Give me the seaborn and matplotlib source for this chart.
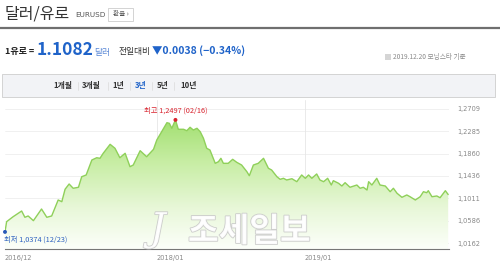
import numpy as np
import pandas as pd
import matplotlib
matplotlib.use("Agg")
import matplotlib.pyplot as plt
import matplotlib.patheffects as pe
from matplotlib.patches import Rectangle
import seaborn as sns

# ---------------- data ----------------
start_date = "2016-12-23"
day_offsets = [0, 4, 20, 41, 49, 57, 70, 90, 103, 115, 131, 140, 148, 158, 168, 181,
               189, 200, 214, 226, 234, 242, 259, 271, 283, 296, 308, 316, 333, 349,
               366, 374, 386, 399, 405, 411, 420, 427, 440, 448, 456, 464, 473, 481,
               489, 497, 505, 518, 526, 532, 538, 550, 561, 571, 583, 596, 602, 612,
               624, 637, 649, 657, 670, 678, 686, 694, 707, 719, 731, 740, 748, 756,
               768, 776, 785, 795, 804, 809, 822, 830, 838, 850, 867, 875, 883, 892,
               896, 904, 916, 924, 937, 949, 957, 966, 978, 990, 998, 1011, 1023, 1031,
               1039, 1043, 1052, 1064, 1072, 1085, 1092]
rates = [1.0374, 1.0568, 1.0662, 1.0770, 1.0651, 1.0676, 1.0587, 1.0808, 1.0651, 1.0676,
         1.0979, 1.0947, 1.1182, 1.1282, 1.1201, 1.1220, 1.1420, 1.1453, 1.1737, 1.1780,
         1.1769, 1.1864, 1.2034, 1.1959, 1.1780, 1.1864, 1.1610, 1.1642, 1.1913, 1.1799,
         1.1940, 1.2116, 1.2273, 1.2444, 1.2432, 1.2338, 1.2497, 1.2319, 1.2319, 1.2292,
         1.2357, 1.2305, 1.2338, 1.2273, 1.2148, 1.1959, 1.1926, 1.1674, 1.1705, 1.1769,
         1.1674, 1.1674, 1.1750, 1.1693, 1.1642, 1.1515, 1.1439, 1.1642, 1.1674, 1.1769,
         1.1580, 1.1547, 1.1420, 1.1371, 1.1390, 1.1358, 1.1382, 1.1326, 1.1453, 1.1390,
         1.1453, 1.1390, 1.1472, 1.1358, 1.1326, 1.1390, 1.1263, 1.1345, 1.1295, 1.1244,
         1.1307, 1.1220, 1.1263, 1.1201, 1.1220, 1.1168, 1.1326, 1.1263, 1.1390, 1.1263,
         1.1244, 1.1136, 1.1201, 1.1106, 1.1030, 1.1074, 1.1041, 1.0979, 1.1041, 1.1136,
         1.1117, 1.1155, 1.1041, 1.1055, 1.1022, 1.1155, 1.1082]

y_ticks = [1.0162, 1.0586, 1.1011, 1.1436, 1.1860, 1.2285, 1.2709]
y_tick_labels = ["1,0162", "1,0586", "1,1011", "1,1436", "1,1860", "1,2285", "1,2709"]
x_tick_dates = ["2016-12-23", "2018-01-01", "2019-01-01"]
x_tick_labels = ["2016/12", "2018/01", "2019/01"]

high_label = "최고 1,2497 (02/16)"
low_label = "최저 1,0374 (12/23)"
tab_labels = ["1개월", "3개월", "1년", "3년", "5년", "10년"]
active_tab = "3년"

title = "달러/유로"
ticker = "EURUSD"
price_text = "1.1082"
change_text = "▼0.0038 (−0.34%)"
source_text = "2019.12.20 모닝스타 기준"

# ---------------- style ----------------
sns.set_theme(style="white")
FAM = ["Noto Sans CJK KR", "DejaVu Sans"]
plt.rcParams["font.family"] = FAM

W, H = 500, 269
fig = plt.figure(figsize=(W / 100, H / 100), dpi=100)
fig.patch.set_facecolor("white")


def fx(x):
    return x / W


def fy(y):
    return 1 - y / H


BLUE = "#1f63c9"
RED = "#d9232e"
GREEN_LINE = "#8fd05a"

# ---------------- header ----------------
fig.text(fx(5), fy(14), title, fontsize=11.5, color="#333333", va="center", ha="left")
fig.text(fx(75), fy(15), ticker, fontsize=5.2, color="#555555", va="center", ha="left",
         family="DejaVu Sans")
fig.patches.append(Rectangle((fx(108), fy(21)), fx(25), 13 / H, transform=fig.transFigure,
                             facecolor="white", edgecolor="#cccccc", lw=0.6))
fig.text(fx(120.5), fy(14.5), "환율 ›", fontsize=4.8, color="#555555", va="center", ha="center")
fig.add_artist(plt.Line2D([0, 1], [fy(28), fy(28)], transform=fig.transFigure,
                          color="#6f6f6f", lw=1.6))

fig.text(fx(5), fy(51), "1유로 =", fontsize=6.5, color="#222222", va="center", ha="left",
         weight="bold")
fig.text(fx(37), fy(50), price_text, fontsize=12.5, color=BLUE, va="center", ha="left",
         weight="bold")
fig.text(fx(94), fy(52), "달러", fontsize=6.3, color="#5a88d6", va="center", ha="left")
fig.text(fx(119), fy(51), "전일대비", fontsize=6.3, color="#333333", va="center", ha="left")
fig.text(fx(152), fy(51), change_text, fontsize=7.5, color=BLUE, va="center", ha="left",
         weight="bold")
fig.patches.append(Rectangle((fx(385), fy(60)), fx(6), 6 / H, transform=fig.transFigure,
                             facecolor="#d5d5d5", edgecolor="none"))
fig.text(fx(393), fy(57), source_text, fontsize=4.8, color="#8a8a8a", va="center", ha="left")

# tab bar
fig.patches.append(Rectangle((fx(2), fy(97)), fx(493), 23 / H, transform=fig.transFigure,
                             facecolor="#f2f3f6", edgecolor="#d3d3d3", lw=0.7))
tab_x = [53, 82, 112, 135, 157, 180]
sep_x = [78, 107.5, 130, 152, 174]
for lab, x in zip(tab_labels, tab_x):
    fig.text(fx(x), fy(86), lab, fontsize=5.6, va="center", ha="left",
             color=BLUE if lab == active_tab else "#333333", weight="bold")
for x in sep_x:
    fig.add_artist(plt.Line2D([fx(x), fx(x)], [fy(82), fy(90)], transform=fig.transFigure,
                              color="#dadada", lw=0.5))

# ---------------- chart ----------------
df = pd.DataFrame({
    "date": pd.to_datetime(start_date) + pd.to_timedelta(day_offsets, unit="D"),
    "rate": rates,
})

ax = fig.add_axes([fx(5), fy(249), fx(444), (249 - 100) / H])
ax.set_facecolor("white")
x0 = pd.to_datetime(start_date)
ax.set_xlim(x0, x0 + pd.Timedelta(days=1094))
ax.set_ylim(1.0050, 1.2874)

# gradient fill
poly = ax.fill_between(df["date"], df["rate"], 1.0050, color="none", lw=0)
grad_cols = np.array([
    [0.62, 0.87, 0.42],
    [0.78, 0.93, 0.64],
    [0.91, 0.97, 0.85],
    [0.99, 1.00, 0.98],
])
n = 256
t = np.linspace(0, 1, n)
stops = np.array([0.0, 0.35, 0.7, 1.0])
img = np.zeros((n, 1, 3))
for c in range(3):
    img[:, 0, c] = np.interp(t, stops, grad_cols[:, c])
xl = ax.get_xlim()
im = ax.imshow(img, aspect="auto", extent=[xl[0], xl[1], 1.0050, 1.2600],
               origin="upper", zorder=1)
path = poly.get_paths()[0]
im.set_clip_path(path, transform=ax.transData)
ax.set_xlim(xl)
ax.set_ylim(1.0050, 1.2874)

sns.lineplot(data=df, x="date", y="rate", ax=ax, color=GREEN_LINE, lw=1.0, zorder=3)

# grid
for v in y_ticks:
    ax.axhline(v, color="#eeeeee", lw=0.6, zorder=0)
for d in x_tick_dates[1:]:
    ax.axvline(pd.to_datetime(d), color="#e6e6e6", lw=0.6, zorder=0)

# spines / ticks
for s in ["top", "right", "left"]:
    ax.spines[s].set_visible(False)
ax.spines["bottom"].set_color("#777777")
ax.spines["bottom"].set_linewidth(0.8)
ax.set_yticks(y_ticks)
ax.yaxis.tick_right()
ax.set_yticklabels(y_tick_labels, fontsize=4.8, color="#888888", family="DejaVu Sans")
ax.tick_params(axis="y", length=0, pad=6)
ax.set_xticks(pd.to_datetime(x_tick_dates))
ax.set_xticklabels(x_tick_labels, fontsize=4.8, color="#888888", family="DejaVu Sans",
                   ha="left")
ax.tick_params(axis="x", length=2, width=0.5, color="#888888", pad=2)
ax.set_xlabel("")
ax.set_ylabel("")

# high / low markers
imax = int(np.argmax(rates))
imin = int(np.argmin(rates))
ax.scatter([df["date"][imax]], [rates[imax]], s=8, color=RED, zorder=5, clip_on=False,
           edgecolor="none")
ax.annotate(high_label, (df["date"][imax], rates[imax]), xytext=(0, 4),
            textcoords="offset points", ha="center", va="bottom", fontsize=5.3, color=RED)
ax.scatter([df["date"][imin]], [rates[imin]], s=8, color="#2a5ab8", zorder=5, clip_on=False,
           edgecolor="none")
ax.annotate(low_label, (df["date"][imin], rates[imin]), xytext=(-1, -3),
            textcoords="offset points", ha="left", va="top", fontsize=5.3, color="#2f62c0")

# watermark
fig.text(fx(188), fy(232), "조세일보", fontsize=24, color="white", alpha=0.9,
         va="center", ha="left", weight="bold",
         path_effects=[pe.withStroke(linewidth=1.2, foreground="#c8c8c8")])
fig.text(fx(150), fy(230), "J", fontsize=28, color="white", alpha=0.9,
         va="center", ha="left", family="DejaVu Serif", style="italic",
         path_effects=[pe.withStroke(linewidth=1.2, foreground="#c8c8c8")])

fig.savefig("out.png", dpi=100)
